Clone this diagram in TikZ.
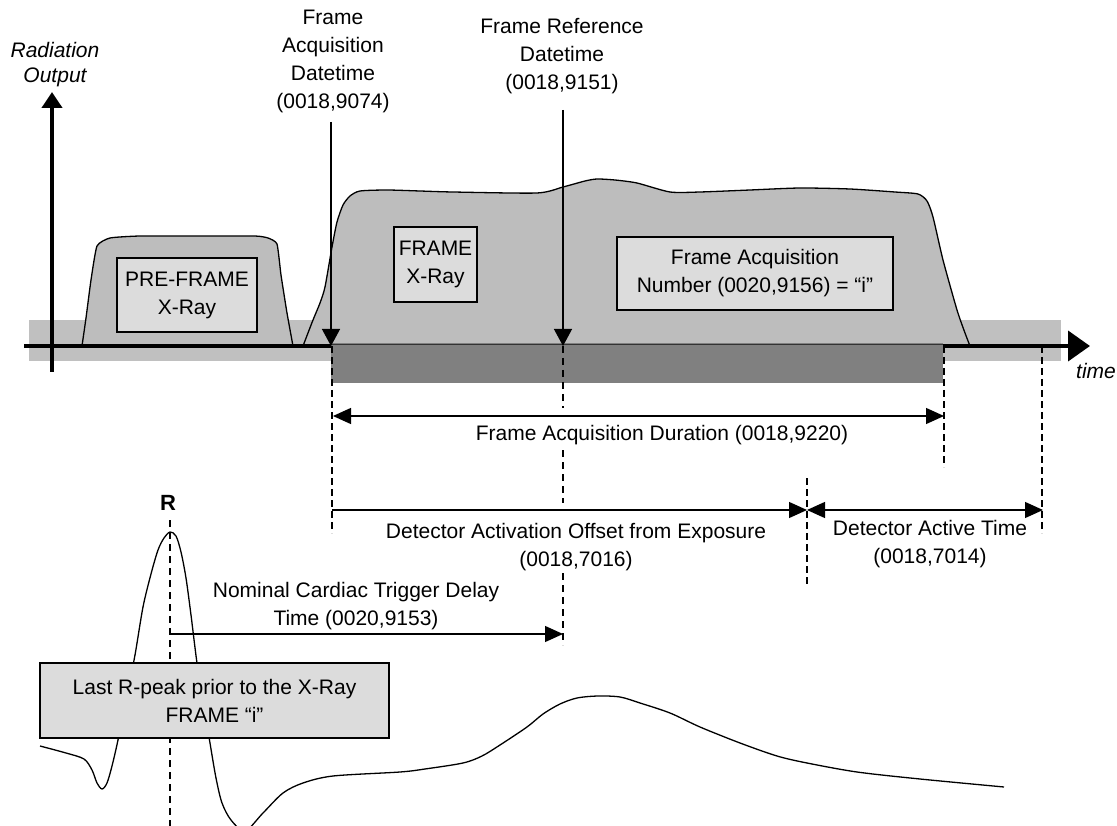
\documentclass[tikz,border=0pt]{standalone}
\usepackage{fontspec}
\setmainfont{Liberation Sans}
\usetikzlibrary{arrows.meta}
\definecolor{bandgray}{HTML}{C0C0C0}
\definecolor{bargray}{HTML}{808080}
\definecolor{pulsegray}{HTML}{BDBDBD}
\definecolor{boxgray}{HTML}{DCDCDC}
\begin{document}
\begin{tikzpicture}[x=1pt,y=-1pt,
  lbl/.style={font=\fontsize{21}{28}\selectfont, inner sep=0pt, align=center},
  infobox/.style={lbl, draw=black, line width=1.3pt, fill=boxgray},
  pulse/.style={fill=pulsegray, draw=black, line width=1.3pt},
  axisline/.style={line width=4pt},
  dimright/.style={line width=1.3pt, -{Triangle[length=18pt,width=16pt]}},
  dimboth/.style={line width=1.3pt, {Triangle[length=18pt,width=16pt]}-{Triangle[length=18pt,width=16pt]}},
  downarrow/.style={line width=1.3pt, -{Triangle[length=17pt,width=18pt]}},
  guide/.style={line width=1.2pt, dash pattern=on 7pt off 4pt},
  guidebold/.style={line width=1.8pt, dash pattern=on 7pt off 5pt},
]
\useasboundingbox (0,0) rectangle (1117,826);

% background band
\fill[bandgray] (29,320) rectangle (1061,361);

% pulses
\filldraw[pulse] plot[smooth, tension=0.3] coordinates {
 (82,346) (86,318) (91,280) (97,246) (110,238) (140,236) (200,236) (255,236)
 (268,238) (277,244) (281,275) (287,313) (293,346)} -- cycle;
\filldraw[pulse] plot[smooth, tension=0.4] coordinates {
 (303,346) (313,320) (320,303) (325,287) (332,247) (337,222) (343,205) (350,196)
 (360,191) (387,190) (420,191) (453,192) (537,193) (563,187) (585,181) (597,179)
 (615,180) (637,183) (670,192) (700,192) (750,190) (800,188) (850,189) (895,192)
 (918,194) (927,201) (933,217) (943,260) (957,310) (965,333) (970,346)} -- cycle;

% axes
\coordinate (vbot) at (52,372);
\coordinate (vtop) at (52,92);
\coordinate (hleft) at (24,346);
\coordinate (hright) at (1090,346);
\draw[axisline, -{Triangle[length=16pt,width=20pt]}] (vbot) -- (vtop);
\draw[axisline, -{Triangle[length=22pt,width=30pt]}] (hleft) -- (hright);

% detector bar
\fill[bargray] (331,343.5) rectangle (943,383);
\draw[line width=1pt, black!80] (331,345) -- (943,345);

% ECG
\draw[line width=1.3pt] plot[smooth, tension=0.5] coordinates {
 (40,746) (66,753) (84,759) (92,770) (97,783) (102,789) (107,783) (112,766) (118,740)
 (127,695) (135,655) (143,607) (151,574) (158,550) (164,538) (170,532) (176,536)
 (181,552) (186,578) (191,615) (197,663) (204,706) (210,743) (216,778) (222,803)
 (231,820) (245,831) (263,813) (283,793) (303,783) (333,776) (400,772) (425,769)
 (463,763) (482,756) (500,745) (527,727) (543,714) (560,704) (577,698) (598,696)
 (620,697) (640,703) (670,713) (700,727) (740,743) (777,756) (807,763) (857,772)
 (920,779) (1004,787)};

% dashed guides
\coordinate (ga1) at (332,346); \coordinate (ga2) at (332,533);
\draw[guide] (ga1) -- (ga2);
\coordinate (gm1) at (563,346); \coordinate (gm2) at (563,408);
\coordinate (gm3) at (563,450); \coordinate (gm4) at (563,503);
\coordinate (gm5) at (563,573); \coordinate (gm6) at (563,645);
\draw[guidebold] (gm1) -- (gm2) (gm3) -- (gm4) (gm5) -- (gm6);
\coordinate (gd1) at (944,346); \coordinate (gd2) at (944,467);
\draw[guide] (gd1) -- (gd2);
\coordinate (ge1) at (807,478); \coordinate (ge2) at (807,587);
\draw[guide] (ge1) -- (ge2);
\coordinate (gf1) at (1042,346); \coordinate (gf2) at (1042,533);
\draw[guide] (gf1) -- (gf2);
\coordinate (gr1) at (170,520); \coordinate (gr2) at (170,830);
\draw[guidebold] (gr1) -- (gr2);

% boxes
\node[infobox, minimum width=140pt, minimum height=74pt] (preframe) at (187,295) {PRE-FRAME\\X-Ray};
\node[infobox, minimum width=83pt, minimum height=75pt] (frame) at (435.5,264.5) {FRAME\\X-Ray};
\node[infobox, minimum width=276pt, minimum height=73pt] (fan) at (755,273.5) {Frame Acquisition\\Number (0020,9156) = “i”};
\node[infobox, minimum width=349pt, minimum height=75pt] (lastr) at (214.5,700.5) {Last R-peak prior to the X-Ray\\FRAME “i”};

% arrows
\coordinate (fadt1) at (331,122); \coordinate (fadt2) at (331,346);
\draw[downarrow] (fadt1) -- (fadt2);
\coordinate (frdt1) at (563,110); \coordinate (frdt2) at (563,346);
\draw[downarrow] (frdt1) -- (frdt2);
\coordinate (fad1) at (333,416); \coordinate (fad2) at (944,416);
\draw[dimboth] (fad1) -- (fad2);
\coordinate (dao1) at (332,510); \coordinate (dao2) at (807,510);
\draw[dimright] (dao1) -- (dao2);
\coordinate (dat1) at (807,510); \coordinate (dat2) at (1043,510);
\draw[dimboth] (dat1) -- (dat2);
\coordinate (nct1) at (170,634); \coordinate (nct2) at (563,634);
\draw[dimright] (nct1) -- (nct2);

% labels
\node[lbl, font=\fontsize{21}{25}\selectfont\itshape, anchor=north] (radout) at (55,42) {Radiation\\Output};
\node[lbl, anchor=base west, font=\fontsize{21}{28}\selectfont\itshape] (timelbl) at (1076,379) {time};
\node[lbl, anchor=north] (fadtlbl) at (333,10) {Frame\\Acquisition\\Datetime\\(0018,9074)};
\node[lbl, anchor=north] (frdtlbl) at (562,18) {Frame Reference\\Datetime\\(0018,9151)};
\node[lbl, anchor=base] (fadlbl) at (662,440) {Frame Acquisition Duration (0018,9220)};
\node[lbl, anchor=north] (daolbl) at (576,523) {Detector Activation Offset from Exposure\\(0018,7016)};
\node[lbl, anchor=north] (datlbl) at (930,520) {Detector Active Time\\(0018,7014)};
\node[lbl, anchor=north] (nctlbl) at (356,582) {Nominal Cardiac Trigger Delay\\Time (0020,9153)};
\node[lbl, anchor=base, font=\fontsize{22}{28}\selectfont\bfseries] (rlbl) at (168,510) {R};
\end{tikzpicture}
\end{document}
